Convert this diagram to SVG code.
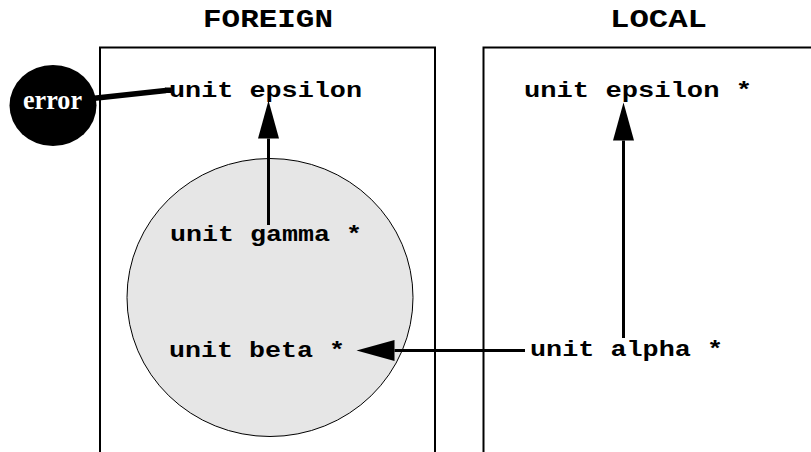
<svg xmlns="http://www.w3.org/2000/svg" width="811" height="452" viewBox="0 0 811 452">
<defs>
<style>
.box{fill:none;stroke:#000;stroke-width:2}
.mono{font-family:"Liberation Mono","DejaVu Sans Mono",monospace;font-weight:bold;fill:#000}
.unit{font-size:22px}
.title{font-size:25px}
.conn{stroke:#000;fill:none;stroke-width:3}
.err{font-family:"Liberation Serif","DejaVu Serif",serif;font-weight:bold;font-size:28px;fill:#fff}
</style>
<marker id="ah" markerUnits="userSpaceOnUse" markerWidth="40" markerHeight="24" viewBox="0 -12 40 24" refX="0" refY="0" orient="auto">
<path d="M0,-10.5 L38,0 L0,10.5 z" fill="#000"/>
</marker>
</defs>
<rect width="811" height="452" fill="#fff"/>
<g id="foreign-title"><text class="mono title" x="203" y="27" textLength="130" lengthAdjust="spacingAndGlyphs">FOREIGN</text></g>
<g id="local-title"><text class="mono title" x="610" y="27" textLength="97" lengthAdjust="spacingAndGlyphs">LOCAL</text></g>
<g id="foreign-box"><rect class="box" x="100" y="47.5" width="335" height="430"/></g>
<g id="local-box"><rect class="box" x="483.5" y="47.5" width="360" height="430"/></g>
<g id="region"><ellipse cx="270" cy="297.5" rx="143" ry="139" fill="#e6e6e6" stroke="#000" stroke-width="1"/></g>
<g id="error"><ellipse cx="53" cy="105.5" rx="43.5" ry="40.5" fill="#000"/><text class="err" x="23" y="109" textLength="59" lengthAdjust="spacingAndGlyphs">error</text></g>
<g id="foreign-epsilon"><text class="mono unit" x="169" y="97" textLength="193" lengthAdjust="spacingAndGlyphs">unit epsilon</text></g>
<g id="gamma"><text class="mono unit" x="170" y="241" textLength="192" lengthAdjust="spacingAndGlyphs">unit gamma *</text></g>
<g id="beta"><text class="mono unit" x="169" y="357" textLength="176" lengthAdjust="spacingAndGlyphs">unit beta *</text></g>
<g id="local-epsilon"><text class="mono unit" x="524" y="97" textLength="228" lengthAdjust="spacingAndGlyphs">unit epsilon *</text></g>
<g id="alpha"><text class="mono unit" x="530" y="356" textLength="193" lengthAdjust="spacingAndGlyphs">unit alpha *</text></g>
<g id="connectors">
<path d="M92,98.5 L166,90.5" stroke="#000" stroke-width="5.5" fill="none"/>
<rect x="165" y="87.5" width="6" height="5.5" fill="#000"/>
<path class="conn" d="M268.5,225 L268.5,138.5" marker-end="url(#ah)"/>
<path class="conn" d="M623.5,338 L623.5,140.5" stroke-width="2.5" marker-end="url(#ah)"/>
<path class="conn" d="M525,350.5 L394.5,350.5" marker-end="url(#ah)"/>
</g>
</svg>
